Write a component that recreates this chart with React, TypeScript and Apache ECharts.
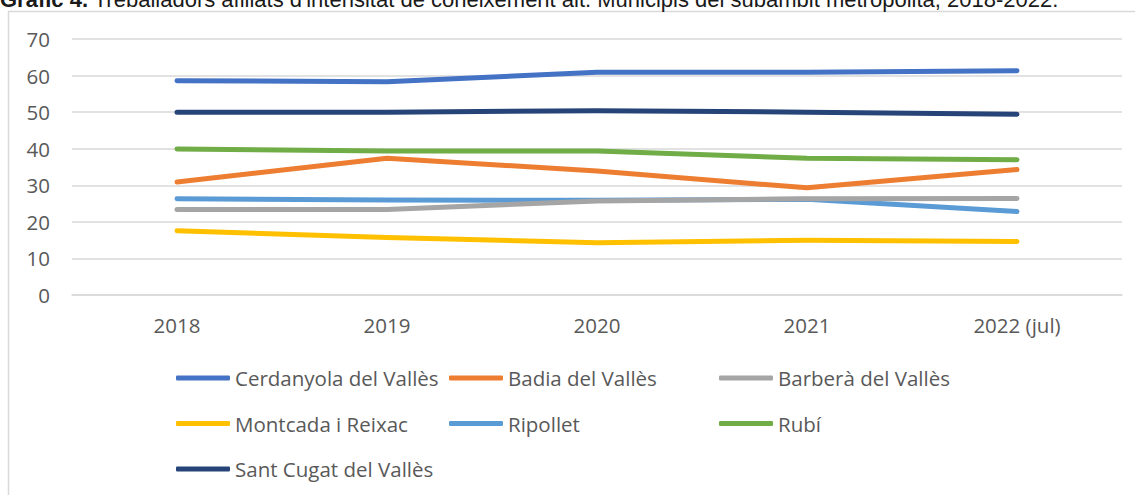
import React, { useEffect, useRef } from "react";
import * as echarts from "echarts";

const categories = ["2018", "2019", "2020", "2021", "2022 (jul)"];
const seriesNames = [
  "Cerdanyola del Vallès",
  "Badia del Vallès",
  "Barberà del Vallès",
  "Montcada i Reixac",
  "Ripollet",
  "Rubí",
  "Sant Cugat del Vallès",
];
const cerdanyola = [58.6, 58.3, 60.9, 60.9, 61.3];
const badia = [30.9, 37.4, 33.9, 29.3, 34.3];
const barbera = [23.4, 23.4, 25.7, 26.3, 26.4];
const montcada = [17.6, 15.7, 14.3, 15.0, 14.6];
const ripollet = [26.3, 26.0, 25.9, 26.2, 22.8];
const rubi = [39.9, 39.4, 39.4, 37.4, 37.0];
const santCugat = [50.0, 50.0, 50.4, 50.0, 49.4];
const yTicks = [0, 10, 20, 30, 40, 50, 60, 70];

const colors = ["#4472C4", "#ED7D31", "#A5A5A5", "#FFC000", "#5B9BD5", "#70AD47", "#264478"];
const values = [cerdanyola, badia, barbera, montcada, ripollet, rubi, santCugat];

export default function App() {
  const ref = useRef<HTMLDivElement>(null);
  useEffect(() => {
    if (!ref.current) return;
    const chart = echarts.init(ref.current, null, { renderer: "svg" });
    const font = "'Open Sans', sans-serif";
    const legendBase = {
      orient: "vertical" as const,
      icon: "roundRect",
      itemWidth: 54,
      itemHeight: 5,
      itemGap: 23.5,
      padding: 0,
      top: 367,
      textStyle: { fontFamily: font, fontSize: 20.5, color: "#595959", lineHeight: 22 },
    };
    chart.setOption({
      animation: false,
      backgroundColor: "#ffffff",
      graphic: [
        {
          type: "rect",
          shape: { x: 8.5, y: 11.5, width: 1140, height: 500 },
          style: { fill: "none", stroke: "#d9d9d9", lineWidth: 1.5 },
          silent: true,
        },
        {
          type: "text",
          x: 0,
          y: 10,
          style: {
            text: "{b|Gràfic 4.} Treballadors afiliats d'intensitat de coneixement alt. Municipis del subàmbit metropolità, 2018-2022.",
            fontFamily: "'Liberation Sans', Arial, sans-serif",
            fontSize: 22,
            fill: "#1a1a1a",
            verticalAlign: "bottom",
            rich: {
              b: { fontWeight: "bold", fontFamily: "'Liberation Sans', Arial, sans-serif", fontSize: 22, fill: "#1a1a1a" },
            },
          },
        },
      ],
      grid: { left: 72, right: 13, top: 39, bottom: 200 },
      xAxis: {
        type: "category",
        data: categories,
        boundaryGap: true,
        axisLine: { show: true, lineStyle: { color: "#d9d9d9", width: 1.5 } },
        axisTick: { show: false },
        axisLabel: { fontFamily: font, fontSize: 20.5, color: "#595959", margin: 19 },
      },
      yAxis: {
        type: "value",
        min: yTicks[0],
        max: yTicks[yTicks.length - 1],
        interval: 10,
        axisLine: { show: false },
        axisTick: { show: false },
        splitLine: { lineStyle: { color: "#d9d9d9", width: 1.5 } },
        axisLabel: { fontFamily: font, fontSize: 20.5, color: "#595959", margin: 22 },
      },
      legend: [
        { ...legendBase, left: 176, data: [seriesNames[0], seriesNames[3], seriesNames[6]] },
        { ...legendBase, left: 449, data: [seriesNames[1], seriesNames[4]] },
        { ...legendBase, left: 719, data: [seriesNames[2], seriesNames[5]] },
      ],
      series: seriesNames.map((name, i) => ({
        name,
        type: "line",
        data: values[i],
        symbol: "none",
        color: colors[i],
        lineStyle: { width: 5, color: colors[i], cap: "round", join: "round" },
        z: 10 - i,
      })),
    });
    return () => chart.dispose();
  }, []);
  return (
    <div
      ref={ref}
      style={{ position: "absolute", left: 0, top: 0, width: 1135, height: 495 }}
    />
  );
}
